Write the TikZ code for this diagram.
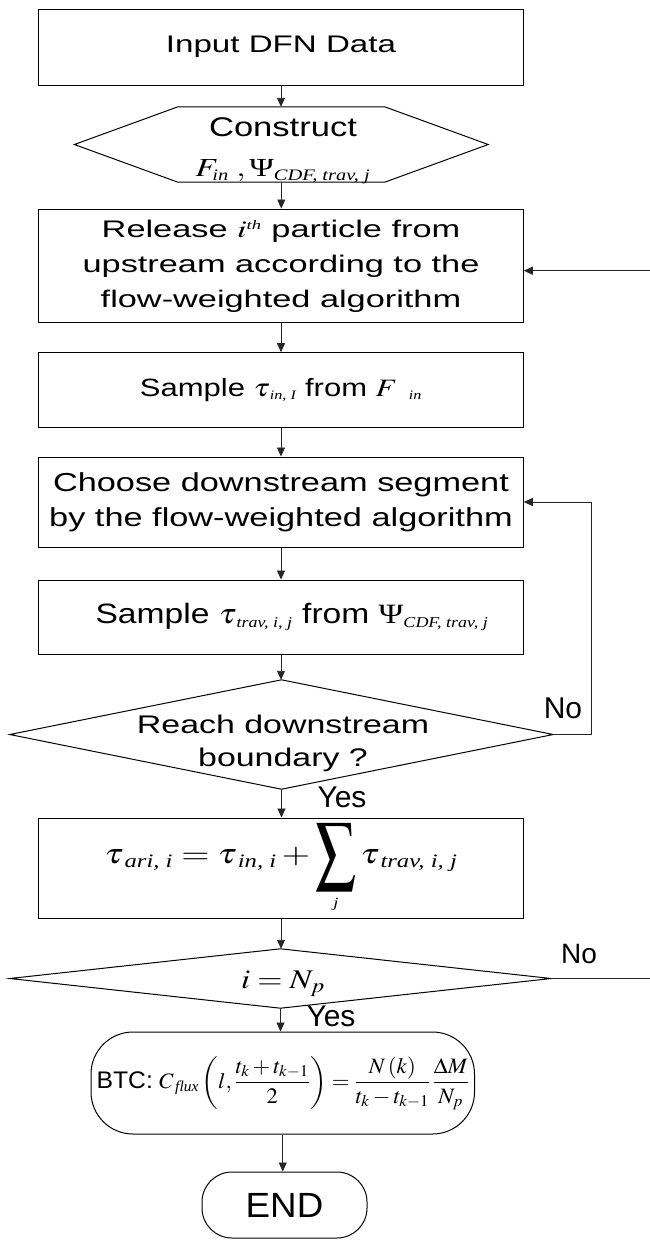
\documentclass[tikz,border=0pt]{standalone}
\usepackage{amsmath}
\usepackage{mathptmx}
\usepackage{graphicx}
\usepackage[no-math]{fontspec}
\setmainfont{Liberation Sans}
\newfontfamily\tms{Liberation Serif}
\usetikzlibrary{arrows.meta}
\newcommand\sx[2]{\scalebox{#1}[1]{#2}}
\newcommand\subtx[2][14]{_{\hbox{\fontsize{#1}{#1}\tms\itshape #2}}}
\newcommand\Psii{\mbox{\tms Ψ}}
\begin{document}
\begin{tikzpicture}[x=1pt,y=1pt,
  box/.style={draw, line width=1pt, rectangle, inner sep=0pt, align=center, minimum width=484.5pt},
  shapeonly/.style={rectangle, inner sep=0pt},
  outline/.style={line width=1pt},
  txt/.style={inner sep=0pt, align=center},
  conn/.style={line width=0.9pt, draw=black!85, -{Triangle[length=9pt,width=8pt]}},
  plain/.style={line width=0.9pt, draw=black!85},
  lbl/.style={inner sep=0pt, font=\fontsize{30}{30}\selectfont},
]
\useasboundingbox (0,0) rectangle (650,-1240);

% Input
\node[box, minimum height=76pt, font=\fontsize{24}{35}\selectfont] (input) at (281,-47) {\sx{1.38}{Input DFN Data}};

% Hexagon
\node[shapeonly, minimum width=413.4pt, minimum height=75pt] (hex) at (281.3,-144.5) {};
\draw[outline] (hex.west) -- ([xshift=103.5pt]hex.north west) -- ([xshift=-103.5pt]hex.north east) -- (hex.east) -- ([xshift=-103.5pt]hex.south east) -- ([xshift=103.5pt]hex.south west) -- cycle;
\node[txt, font=\fontsize{27}{40}\selectfont] (hext) at (283,-148.5) {\sx{1.28}{\begin{tabular}{@{}c@{}}Construct\\ \fontsize{26}{40}\selectfont $F\subtx[16]{in}\;,\Psii\subtx[16]{CDF, trav, j}$\end{tabular}}};

% Release
\node[box, minimum height=113.7pt, font=\fontsize{24}{35}\selectfont] (release) at (281,-265.85) {\sx{1.43}{\begin{tabular}{@{}c@{}}Release $i^{\hbox{\fontsize{13}{13}\tms\itshape th}}$ particle from\\upstream according to the\\flow-weighted algorithm\end{tabular}}};

% Sample 1
\node[box, minimum height=74.3pt, font=\fontsize{25}{30}\selectfont] (samp1) at (281,-389.85) {\sx{1.24}{Sample $\tau\subtx[13]{\,in, I}$ from $F\subtx[13]{\hspace{14pt}in}$}};

% Choose
\node[box, minimum height=90pt, font=\fontsize{26}{35}\selectfont] (choose) at (281,-502) {\sx{1.32}{\begin{tabular}{@{}c@{}}Choose downstream segment\\by the flow-weighted algorithm\end{tabular}}};

% Sample 2
\node[box, minimum height=74pt, font=\fontsize{28}{34}\selectfont] (samp2) at (281,-617) {\hspace*{22pt}\sx{1.2}{Sample $\tau\subtx[15]{\,trav, i, j}$ from $\Psii\subtx[15]{CDF, trav, j}$}};

% Diamond 1
\node[shapeonly, minimum width=543pt, minimum height=109pt] (d1) at (281.5,-734.5) {};
\draw[outline] (d1.north) -- (d1.east) -- (d1.south) -- (d1.west) -- cycle;
\node[txt, font=\fontsize{25.5}{33}\selectfont] (d1t) at (283,-743.5) {\sx{1.33}{\begin{tabular}{@{}c@{}}Reach downstream\\boundary ?\end{tabular}}};
\node[lbl] (no1) at (563,-708) {No};
\node[lbl] (yes1) at (342,-797) {Yes};

% Sum box
\node[box, minimum height=100pt, font=\fontsize{28}{34}\selectfont] (ari) at (281,-868) {\sx{1.3}{$\displaystyle \tau\subtx[19]{\,ari, i}=\tau\subtx[19]{\,in, i}+\mathop{\vcenter{\hbox{\scalebox{1.1}[1.95]{$\displaystyle\sum$}}}}\limits_{\hbox{\fontsize{14}{14}\tms\itshape j}}\tau\subtx[19]{\,trav, i, j}$}};

% Diamond 2
\node[shapeonly, minimum width=541pt, minimum height=59pt] (d2) at (280.5,-978.5) {};
\draw[outline] (d2.north) -- (d2.east) -- (d2.south) -- (d2.west) -- cycle;
\node[txt, font=\fontsize{27}{30}\selectfont] (d2t) at (283,-984) {\sx{1.2}{$i=N_p$}};
\node[lbl, font=\fontsize{28}{28}\selectfont] (no2) at (579,-954) {No};
\node[lbl] (yes2) at (331,-1016) {Yes};

% BTC
\node[draw, line width=1pt, rounded corners=42pt, minimum width=383.5pt, minimum height=102pt, inner sep=0pt, font=\fontsize{22}{26}\selectfont] (btc) at (282.75,-1083) {\sx{1.03}{{\fontsize{24}{28}\selectfont BTC:} $\displaystyle C\subtx[15]{\,flux}\left(l,\frac{t_k+t_{k-1}}{2}\right)=\frac{N\left(k\right)}{t_k-t_{k-1}}\,\frac{\Delta M}{N_p}$}};

% END
\node[draw, line width=1pt, rounded corners=30pt, minimum width=165pt, minimum height=66pt, inner sep=0pt, font=\fontsize{35}{40}\selectfont] (end) at (284.5,-1205) {\sx{1.05}{END}};

% Connectors
\draw[conn] (input.south) -- (input.south |- hex.north);
\draw[conn] (hex.south) -- (hex.south |- release.north);
\draw[conn] (release.south) -- (samp1.north);
\draw[conn] (samp1.south) -- (choose.north);
\draw[conn] (choose.south) -- (samp2.north);
\draw[conn] (samp2.south) -- (samp2.south |- d1.north);
\draw[conn] (d1.south) -- (d1.south |- ari.north);
\draw[conn] (ari.south) -- (ari.south |- d2.north);
\draw[conn] (d2.south) -- (d2.south |- btc.north);
\draw[conn] (btc.south) -- (btc.south |- end.north);
\draw[conn] (d1.east) -- ++(38pt,0) |- (choose.east);
\coordinate (loopin) at (650,-270.7);
\draw[conn] (loopin) -- (loopin -| release.east);
\coordinate (d2out) at (650,-978.5);
\draw[plain] (d2.east) -- (d2out);
\end{tikzpicture}
\end{document}
